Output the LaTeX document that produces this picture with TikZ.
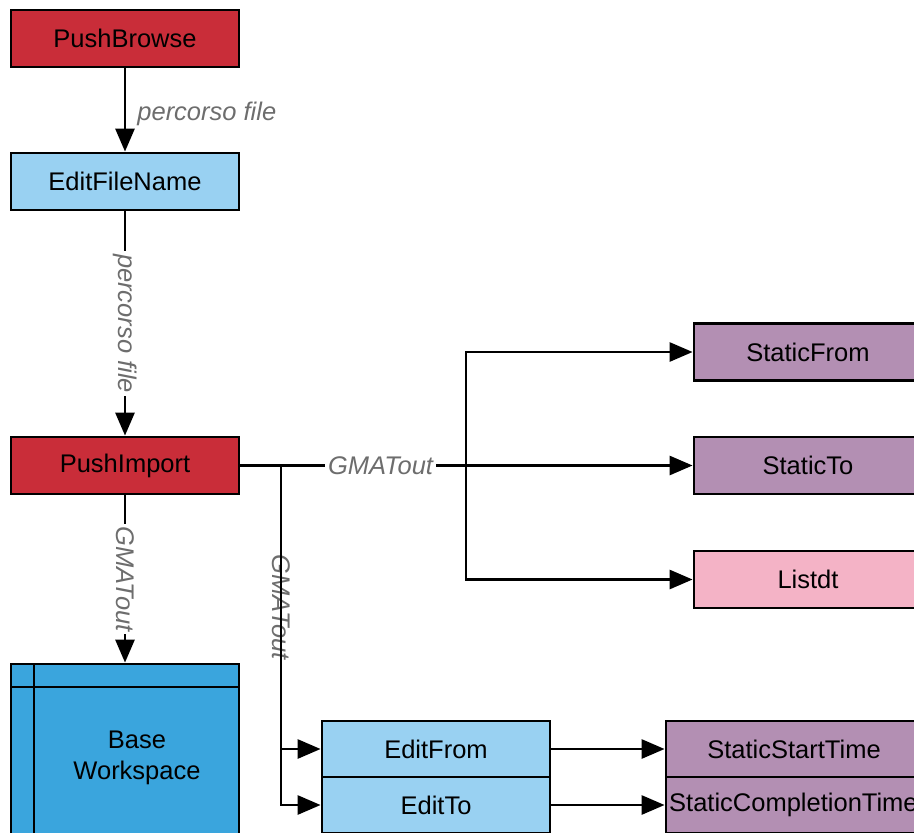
\documentclass[tikz,border=0pt]{standalone}
\usepackage{fontspec}
\setmainfont{Liberation Sans}
\usepackage{xcolor}
\usetikzlibrary{arrows.meta, positioning}

\definecolor{btnred}{HTML}{C92D39}
\definecolor{editblue}{HTML}{99D1F2}
\definecolor{wsblue}{HTML}{3AA5DD}
\definecolor{statpurple}{HTML}{B38FB3}
\definecolor{listpink}{HTML}{F4B3C6}
\definecolor{lblgrey}{HTML}{6D6D6D}

\tikzset{
    block/.style={draw=black, line width=2.8pt, minimum width=228pt, minimum height=57pt,
        inner sep=0pt, font=\fontsize{25.5}{30}\selectfont},
    conn/.style={line width=2.8pt, -{Triangle[length=23pt, width=19pt]}},
    lbl/.style={fill=white, inner sep=3pt, text=lblgrey, font=\fontsize{25.5}{30}\selectfont\itshape}
}

\begin{document}
\begin{tikzpicture}[x=1pt, y=-1pt]
                        \useasboundingbox (0, 0) rectangle (914, 833);
                        \clip (0, 0) rectangle (914, 833);
                        % left column
                        \node[block, fill=btnred] (pbrowse) at (125, 38.5) {PushBrowse};
                        \node[block, fill=editblue] (efname) at (125, 181.5) {EditFileName};
                        \node[block, fill=btnred] (pimport) at (125, 465.5) {PushImport};
                        \node[block, fill=wsblue, minimum height=240pt] (base) at (125, 784) {};
                        \draw[line width=2.8pt] (34, 664) -- (34, 905);
                        \draw[line width=2.8pt] (11, 687) -- (239, 687);
                        \node[align=center, font=\fontsize{25.5}{31}\selectfont] (basetext) at (137, 758) {Base\\Workspace};
                        % right column
                        \node[block, fill=statpurple] (sfrom) at (808, 352) {StaticFrom};
                        \node[block, fill=statpurple] (sto) at (808, 465.5) {StaticTo};
                        \node[block, fill=listpink] (listdt) at (808, 579.5) {Listdt};
                        % bottom stack
                        \node[block, fill=editblue, minimum height=56pt] (efrom) at (436, 749) {EditFrom};
                        \node[block, fill=editblue, minimum height=56pt] (eto) at (436, 805) {EditTo};
                        \node[block, fill=statpurple, minimum width=256pt, minimum height=56pt] (sstart) at (794, 749) {StaticStartTime};
                        \node[block, fill=statpurple, minimum width=256pt, minimum height=56pt] (scompl) at (794, 805) {};
                        \node[font=\fontsize{25.5}{30}\selectfont, anchor=west, inner sep=0pt] (scompltext) at (669, 805) {StaticCompletionTime};
                        \coordinate (fork) at (466, 465.5);
                        \coordinate (tap) at (281, 465.5);
                        % connectors
                        \draw[conn] (pbrowse) -- node[lbl, right=8pt, fill=none, pos=0.55] {percorso file} (efname);
                        \draw[conn] (efname) -- node[lbl, rotate=-90] {percorso file} (pimport);
                        \draw[conn] (pimport) -- node[lbl, rotate=-90] {GMATout} (base);
                        \draw[conn] (pimport.east) -- node[lbl, pos=0.31] {GMATout} (sto.west);
                        \draw[conn] (fork) |- (sfrom.west);
                        \draw[conn] (fork) |- (listdt.west);
                        \draw[conn] (tap) |- node[lbl, rotate=-90, pos=0.25] {GMATout} (efrom.west);
                        \draw[conn] (tap) |- (eto.west);
                        \draw[conn] (efrom) -- (sstart);
                        \draw[conn] (eto) -- (scompl);
                    \end{tikzpicture}
\end{document}
